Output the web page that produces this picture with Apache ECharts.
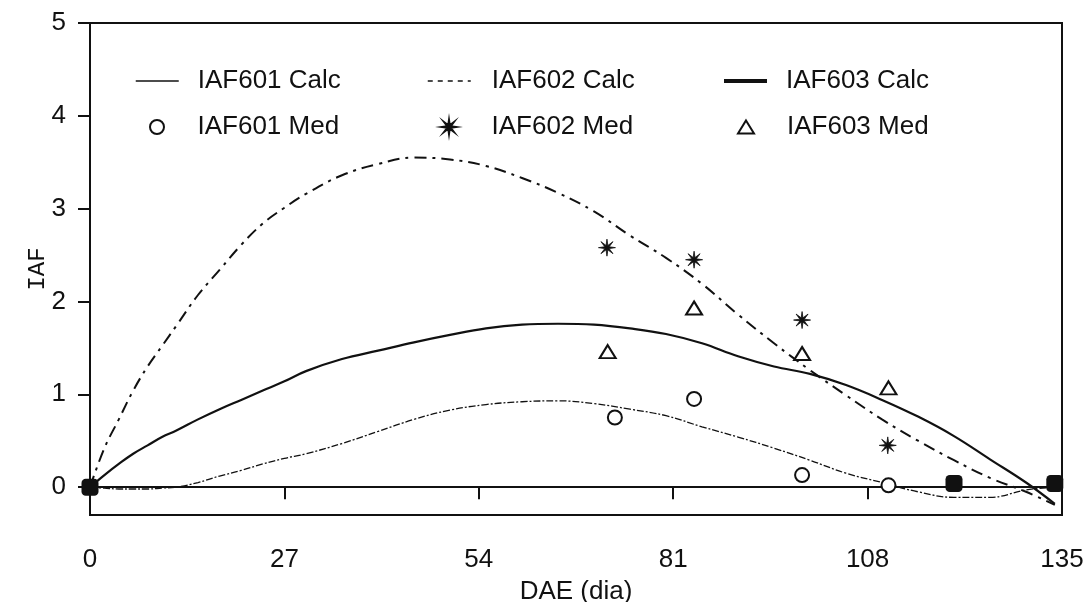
<!DOCTYPE html>
<html>
<head>
<meta charset="utf-8">
<script src="https://cdn.jsdelivr.net/npm/echarts@6/dist/echarts.min.js"></script>
<style>html,body{margin:0;padding:0;background:#fff;}#c{width:1087px;height:602px;}</style>
</head>
<body>
<div id="c"></div>
<script>
// ---- data ----
const days = [0, 2, 4, 6, 8, 10, 12, 15, 18, 21, 24, 27, 30, 35, 40, 45, 50, 55, 60, 65, 70, 75, 80, 85, 90, 95, 100, 105, 110, 115, 120, 125, 130, 134];
const calc601 = [0, -0.01, -0.02, -0.02, -0.02, -0.01, 0.0, 0.05, 0.12, 0.18, 0.25, 0.31, 0.36, 0.47, 0.60, 0.73, 0.83, 0.89, 0.92, 0.93, 0.90, 0.84, 0.77, 0.65, 0.54, 0.42, 0.29, 0.15, 0.05, -0.05, -0.11, -0.11, -0.03, 0.0];
const calc602 = [0, 0.42, 0.73, 1.04, 1.30, 1.52, 1.74, 2.07, 2.34, 2.61, 2.84, 3.01, 3.16, 3.36, 3.48, 3.55, 3.53, 3.46, 3.33, 3.17, 2.97, 2.71, 2.47, 2.19, 1.86, 1.55, 1.26, 0.99, 0.73, 0.50, 0.29, 0.10, -0.05, -0.19];
const calc603 = [0, 0.13, 0.25, 0.36, 0.45, 0.54, 0.61, 0.73, 0.84, 0.94, 1.04, 1.14, 1.25, 1.38, 1.47, 1.56, 1.64, 1.71, 1.75, 1.76, 1.75, 1.71, 1.65, 1.55, 1.41, 1.30, 1.22, 1.10, 0.94, 0.76, 0.55, 0.30, 0.05, -0.18];
const medDays601 = [72.9, 83.9, 98.9, 110.9];
const med601 = [0.75, 0.95, 0.13, 0.02];
const medDays602 = [71.8, 83.9, 98.9, 110.8];
const med602 = [2.58, 2.45, 1.80, 0.45];
const medDays603 = [71.9, 83.9, 98.9, 110.9];
const med603 = [1.46, 1.93, 1.44, 1.07];
const harvestDays = [0, 120, 134];
const harvestIAF = [0, 0.04, 0.04];
const xTicks = [0, 27, 54, 81, 108, 135];
const yTicks = [0, 1, 2, 3, 4, 5];
const names = ['IAF601 Calc', 'IAF602 Calc', 'IAF603 Calc', 'IAF601 Med', 'IAF602 Med', 'IAF603 Med'];

// ---- helpers ----
const pairs = (xs, ys) => xs.map((x, i) => [x, ys[i]]);
function starPath() {
  const pts = [];
  for (let k = 0; k < 16; k++) {
    const a = Math.PI * k / 8 - Math.PI / 2;
    const r = (k % 2 === 0) ? 50 : 14;
    pts.push([(50 + r * Math.cos(a)).toFixed(2), (50 + r * Math.sin(a)).toFixed(2)]);
  }
  return 'path://M' + pts.map(p => p.join(' ')).join(' L') + ' Z';
}
const FONT = 'Liberation Sans';
const INK = '#111';
const hideSym = {color: 'transparent', borderColor: 'transparent', borderWidth: 0, opacity: 0};

const chart = echarts.init(document.getElementById('c'), null, {renderer: 'canvas'});
const textBase = {fontFamily: FONT, fontSize: 26, color: INK, padding: [0, 0, 0, 14]};
const legendBase = {
  orient: 'vertical', itemWidth: 43, itemHeight: 14, itemGap: 15, padding: 0,
  selectedMode: false, textStyle: textBase
};
const ROW1 = 68, ROW2 = 114;
chart.setOption({
  animation: false,
  backgroundColor: '#fff',
  grid: {left: 90, right: 25, top: 23, bottom: 87, outerBoundsMode: 'none', containLabel: false,
    show: true, borderColor: INK, borderWidth: 2, backgroundColor: 'transparent'},
  legend: [
    Object.assign({}, legendBase, {left: 135, top: ROW1, data: [{name: names[0], itemStyle: hideSym, lineStyle: {width: 1.5, type: 'solid'}}]}),
    Object.assign({}, legendBase, {left: 149, top: ROW2, data: [{name: names[3]}]}),
    Object.assign({}, legendBase, {left: 427, top: ROW1, data: [{name: names[1], itemStyle: hideSym, lineStyle: {width: 1.5, type: [5, 5]}}],
      textStyle: Object.assign({}, textBase, {padding: [0, 0, 0, 16]})}),
    Object.assign({}, legendBase, {left: 441, top: ROW2, data: [{name: names[4]}],
      textStyle: Object.assign({}, textBase, {padding: [0, 0, 0, 16]})}),
    Object.assign({}, legendBase, {left: 722, top: ROW1, data: [{name: names[2], itemStyle: hideSym, lineStyle: {width: 4, type: 'solid'}}]}),
    Object.assign({}, legendBase, {left: 737, top: ROW2, itemWidth: 16, itemHeight: 13, data: [{name: names[5]}],
      textStyle: Object.assign({}, textBase, {padding: [0, 0, 0, 28]})})
  ],
  xAxis: {
    type: 'value', min: 0, max: 135, interval: 27,
    name: 'DAE (dia)', nameLocation: 'middle', nameGap: 64, nameMoveOverlap: false,
    nameTextStyle: {fontFamily: FONT, fontSize: 26, color: INK},
    axisLine: {show: true, lineStyle: {color: INK, width: 2}},
    axisTick: {show: true, inside: false, length: 12, lineStyle: {color: INK, width: 2}},
    axisLabel: {fontFamily: FONT, fontSize: 26, color: INK, margin: 32},
    splitLine: {show: false}
  },
  yAxis: {
    type: 'value', min: -0.3, max: 5,
    name: 'IAF', nameLocation: 'middle', nameGap: 40, nameMoveOverlap: false,
    nameTextStyle: {fontFamily: 'Liberation Mono', fontSize: 24, color: INK},
    axisLine: {show: true, lineStyle: {color: INK, width: 2}},
    axisTick: {show: true, inside: false, length: 12, customValues: yTicks, lineStyle: {color: INK, width: 2}},
    axisLabel: {fontFamily: FONT, fontSize: 26, color: INK, margin: 24, customValues: yTicks},
    splitLine: {show: false}
  },
  series: [
    {name: names[0], type: 'line', data: pairs(days, calc601), smooth: 0.4, symbol: 'none',
     lineStyle: {color: INK, width: 1.3, type: [7, 2, 2, 2]}, itemStyle: {color: INK}, z: 3},
    {name: names[1], type: 'line', data: pairs(days, calc602), smooth: 0.4, symbol: 'none',
     lineStyle: {color: INK, width: 2, type: [12, 6, 3, 6]}, itemStyle: {color: INK}, z: 3},
    {name: names[2], type: 'line', data: pairs(days, calc603), smooth: 0.4, symbol: 'none',
     lineStyle: {color: INK, width: 2.2, type: 'solid'}, itemStyle: {color: INK}, z: 3,
     markLine: {silent: true, symbol: 'none', label: {show: false},
       lineStyle: {color: INK, width: 2, type: 'solid'}, data: [{yAxis: 0}]}},
    {name: names[3], type: 'scatter', data: pairs(medDays601, med601), symbol: 'circle', symbolSize: 14,
     itemStyle: {color: '#fff', borderColor: INK, borderWidth: 2, opacity: 1}, z: 5},
    {name: names[4], type: 'scatter', data: pairs(medDays602, med602), symbol: starPath(), symbolSize: 17,
     itemStyle: {color: INK, borderColor: INK, borderWidth: 0.8, opacity: 1}, z: 5},
    {name: names[5], type: 'scatter', data: pairs(medDays603, med603), symbol: 'triangle', symbolSize: [16, 13],
     itemStyle: {color: '#fff', borderColor: INK, borderWidth: 2, opacity: 1}, z: 5},
    {name: 'Colheita', type: 'scatter', data: pairs(harvestDays, harvestIAF), symbol: 'roundRect', symbolSize: 17,
     itemStyle: {color: INK, opacity: 1}, z: 6}
  ]
});
</script>
</body>
</html>
